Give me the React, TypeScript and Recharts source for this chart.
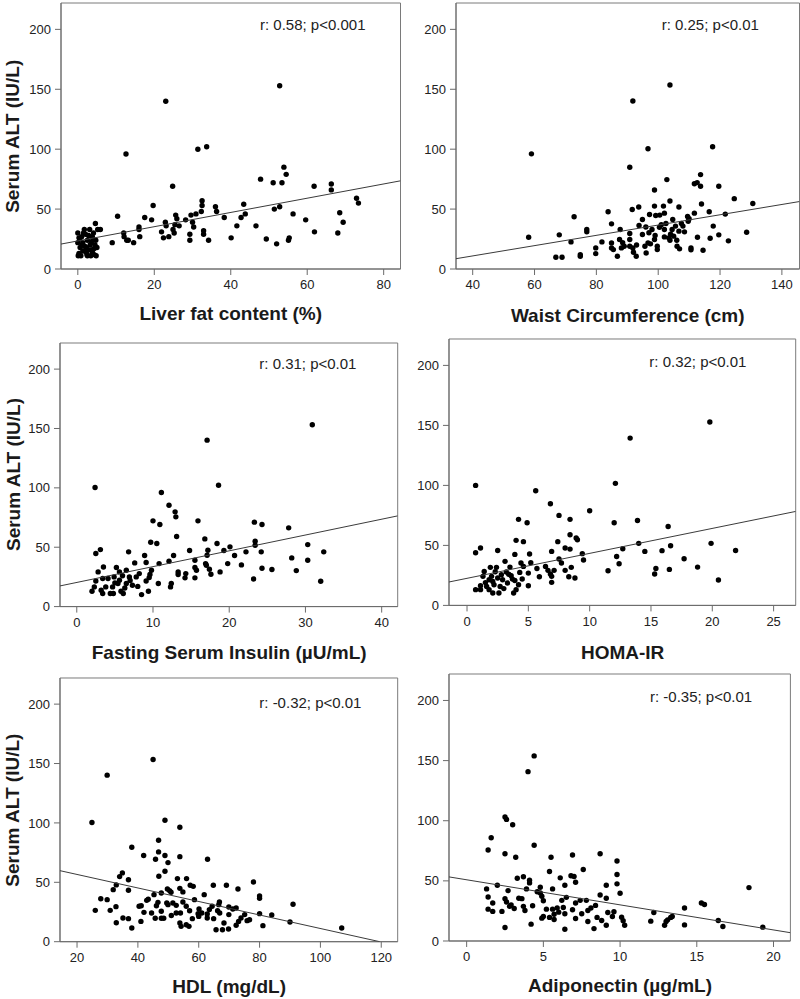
import React from "react";
import { ScatterChart, Scatter, XAxis, YAxis, ReferenceArea } from "recharts";

// ---------- data ----------
const altTicks = [0, 50, 100, 150, 200];

const liverFatTicks = [0, 20, 40, 60, 80];
const liverFatPoints: [number, number][] = [
  [52.8, 153], [23, 140], [12.6, 96], [31.4, 100], [33.7, 102],
  [47.8, 75], [51.1, 72], [53.4, 72], [53.9, 85], [54.5, 79], [24.8, 69], [61.8, 69], [66.3, 71], [66.3, 66],
  [19.7, 53], [32.5, 57], [32.5, 53], [32.3, 48], [36, 52], [36.3, 48], [43.4, 54], [10.4, 44], [17.5, 43],
  [19.3, 41], [21.9, 31], [25.6, 45], [25.9, 42], [25.4, 37], [22.9, 39], [23.1, 36], [22.4, 26], [23.8, 27],
  [25.2, 30], [26.5, 36], [29.6, 45], [30.9, 46], [28.2, 41], [30.3, 35], [29.3, 29], [29.3, 24], [32.9, 32],
  [32.9, 29], [34.2, 24], [38.3, 43], [40.1, 26], [41.6, 36], [42.7, 43], [43.8, 46], [46.6, 36], [49.3, 25],
  [51.4, 50], [52.8, 52], [52, 21], [55.1, 24], [55.3, 26], [56.3, 46], [59.6, 41], [61.9, 31], [68, 30],
  [68.5, 47], [69.4, 39], [72.9, 59], [73.4, 55], [30, 39], [24.9, 33],
  [9, 22], [12, 30], [12.1, 27], [12.8, 24], [14.6, 22], [16, 35], [16, 33], [16.2, 27], [13.2, 24], [5.9, 33],
  [0, 30], [0.3, 26], [0, 22], [0.6, 18], [0.3, 13], [0.1, 11], [1, 27], [1.3, 22], [1.7, 33], [2, 29],
  [2.2, 18], [2.4, 12], [2.5, 24], [3.1, 33], [3.2, 20], [3.6, 16], [3.8, 27], [4.1, 30], [4.3, 12], [4.5, 20],
  [4.7, 24], [5, 18], [5.2, 33], [4.6, 38], [4.8, 11], [2.5, 11], [1.3, 15], [2.9, 16], [3.9, 24], [3.4, 11],
  [0.8, 11], [1.8, 19], [0.5, 25], [1.5, 30], [2.8, 28], [3.5, 22], [4.2, 17], [1.1, 20], [2.2, 14], [3.8, 14],
];
const liverFatFit: [number, number][] = [[-4.4, 20.8], [84.4, 73.6]];

const waistTicks = [40, 60, 80, 100, 120, 140];
const waistPoints: [number, number][] = [
  [103.8, 153.6], [91.8, 140.2], [59, 96.1], [96.7, 100.3], [117.6, 102], [90.8, 84.9], [102.8, 74.6],
  [98.8, 65.9], [113.7, 78.8], [111.7, 71.2], [112.6, 72.1], [113.7, 69], [119.6, 69], [124.6, 58.7],
  [130.6, 54.7], [103.8, 56.7], [106.7, 51.7], [98.8, 52.5], [101.7, 52.5], [93.7, 51.7], [91.6, 49.7],
  [83.8, 47.8], [97.2, 45.5], [99.2, 44.7], [102, 46.6], [114, 54.2], [116.5, 47.8], [111.7, 46.6],
  [109.5, 43.9], [121.7, 45.8], [72.8, 43.6], [84.9, 37.7], [76.9, 33], [76.9, 31], [68, 28.5], [58.1, 26.5],
  [71.8, 22.6], [117.8, 35.8], [119.6, 28.5], [128.6, 30.7], [112.7, 26.5], [116.8, 25.7], [122.7, 23.5],
  [114.5, 15.6], [66.9, 9.8], [68.9, 9.8], [74.8, 12], [74.8, 10.6], [79.8, 17.6], [79.8, 12.8], [81.8, 22.6],
  [84.9, 21.8], [84.9, 17.6], [85.5, 16.2], [86.8, 10.6], [87.5, 24.6], [88.1, 17.6], [87.7, 33], [90.8, 29.6],
  [90.8, 24.6], [90.8, 19], [91.8, 17.6], [92, 14], [92.9, 10.6], [93.8, 36.3], [94.9, 41.3], [94.9, 28.8],
  [95.7, 19], [96.1, 13.4], [96.7, 21.8], [97, 30.2], [98, 33], [98.8, 24.6], [99.7, 19], [99.7, 16.2],
  [100.4, 34.9], [101, 36.9], [102, 33], [102, 26.8], [103.4, 26], [103.8, 24], [104.5, 33], [105, 27.4],
  [105.6, 35.8], [106.1, 19], [106.7, 31.6], [106.9, 16.8], [107.5, 38], [108, 35.8], [109.7, 39.9],
  [110.6, 17.6], [110.6, 16], [104.7, 41.3], [100.5, 45], [97.5, 21], [88.5, 22], [93, 20], [104, 29],
  [106, 24], [108.5, 31], [99, 28], [96, 35], [89, 19], [102.5, 38], [110, 42],
];
const waistFit: [number, number][] = [[34.6, 8.6], [145.7, 56.3]];

const insulinTicks = [0, 10, 20, 30, 40];
const insulinPoints: [number, number][] = [
  [30.9, 153.1], [17.1, 140.2], [2.4, 100.3], [11.1, 96.1], [18.6, 102.2], [12.1, 85.4], [12.9, 79.8],
  [13, 75.6], [10, 72.2], [10.9, 69.1], [15.9, 72.2], [23.3, 71.1], [24.3, 69.1], [27.8, 66.3], [16.8, 57],
  [13.1, 59], [9.7, 54.2], [10.5, 53.1], [18.4, 53.1], [23.4, 55.1], [23.4, 51.7], [30.3, 52.2], [17.2, 47.5],
  [14.8, 47.2], [19.3, 47.2], [20.1, 50.3], [24.2, 46.1], [22.2, 46.1], [32.4, 46.1], [28.2, 41], [20.7, 43],
  [30.3, 39], [17.1, 43.3], [2.5, 44.7], [3.1, 48], [6.8, 46.1], [8.9, 43], [7.6, 36.8], [9.1, 37.1],
  [12.7, 43], [10.8, 36.2], [12.1, 38.2], [15.5, 39], [15.5, 32.9], [15.7, 30.6], [17, 34.8], [17.4, 31.5],
  [17.6, 27.2], [18.8, 29.2], [21.6, 35.1], [19.8, 36.2], [25.6, 31.2], [24.3, 32.3], [28.8, 30.3],
  [23.2, 23.3], [32, 21.3], [15.5, 24.2], [14.2, 24.2], [13.3, 29.2], [13.3, 27], [12.4, 19.4], [12.3, 16.6],
  [10.7, 19.4], [9.4, 12.9], [8.5, 10.1], [9.8, 30.6], [9.6, 27], [9.5, 24.4], [9.1, 21.6], [7.8, 25],
  [7.3, 18], [6.9, 25], [6.5, 19.4], [6.3, 15.7], [6.1, 11], [5.8, 12.9], [5.6, 22.2], [5.4, 19.4],
  [5.2, 32.9], [4.9, 25], [4.7, 16.6], [4.4, 11], [4.1, 23.6], [3.8, 16.6], [3.5, 33.4], [3.4, 23.6],
  [3.2, 13.8], [2.8, 29.2], [2.5, 21.6], [2.3, 16.6], [2, 12.9], [3.4, 11], [6.5, 30.6], [8.2, 27.8],
  [14.3, 27.8], [16.9, 36.2], [5.6, 29.2], [4.8, 11], [5.0, 20], [6.0, 26], [7.0, 22], [8.0, 17],
];
const insulinFit: [number, number][] = [[-2.2, 17.4], [42.1, 76.4]];

const homaTicks = [0, 5, 10, 15, 20, 25];
const homaPoints: [number, number][] = [
  [19.8, 152.8], [13.3, 139.4], [0.7, 100], [12.1, 101.7], [5.6, 95.6], [6.8, 84.7], [10, 78.9], [7.5, 75],
  [4.2, 71.7], [4.9, 68.9], [8.4, 71.7], [12, 68.9], [13.9, 70.8], [16.4, 65.8], [8.4, 58.9], [8.9, 56.1],
  [9, 54.7], [4, 54.2], [4.6, 53.1], [7.4, 53.1], [14, 51.7], [19.9, 51.7], [0.7, 43.9], [1.1, 47.8],
  [2.5, 45.8], [3.9, 42.5], [5.1, 42.8], [6.9, 45], [8, 47.8], [8.4, 46.9], [9.4, 43.1], [9.5, 37.8],
  [12.7, 47.2], [12.2, 40.8], [12.4, 34.7], [14.5, 45], [15.9, 45.6], [16.6, 49.7], [17.7, 38.9], [21.9, 45.8],
  [18.8, 31.9], [15.4, 30.8], [16.5, 30], [15.3, 26.1], [20.5, 21.1], [11.5, 28.9], [7.5, 38.6], [7.7, 35.3],
  [8, 29.2], [8.5, 31.7], [8.3, 23.9], [8.8, 22.8], [7.1, 29.2], [6.4, 32.5], [6.6, 29.2], [6.8, 26.1],
  [6.9, 19.2], [6.9, 24.2], [5.9, 23.9], [5.7, 30.8], [5.2, 35.6], [5, 26.9], [5, 16.4], [4.6, 32.5],
  [4.4, 35.3], [4.3, 27.5], [4.2, 17.2], [4, 13.1], [3.8, 10.3], [3.7, 21.9], [3.6, 24.7], [3.3, 18.6],
  [3.2, 27.8], [3.1, 36.7], [2.9, 21.4], [2.7, 15.8], [2.6, 10.3], [2.5, 22.8], [2.4, 31.7], [2.2, 17.2],
  [2.1, 10.3], [2.1, 20], [2, 24.2], [1.9, 31.7], [1.8, 13.1], [1.6, 15.8], [1.4, 28.3], [1.3, 24.2],
  [1.1, 16.4], [1.1, 13.1], [0.7, 13.1], [1.8, 21.4], [2.8, 25.6], [3.5, 31.9], [3.9, 20.8], [2.3, 28],
  [3.0, 14], [4.5, 22], [1.5, 19], [3.4, 26],
];
const homaFit: [number, number][] = [[-1.47, 19.5], [26.8, 78.3]];

const hdlTicks = [20, 40, 60, 80, 100, 120];
const hdlPoints: [number, number][] = [
  [45, 153.4], [29.9, 140.2], [24.9, 100.3], [48.9, 102.2], [53.8, 96.3], [46.8, 85.4], [38, 79.5],
  [46.8, 75.6], [41.9, 72.5], [48.9, 72.5], [53.8, 71.6], [62.9, 69.4], [45.8, 69.4], [49.9, 66.6],
  [48.9, 59.3], [34.9, 57.9], [34, 54.8], [46.9, 55.1], [36.9, 52.2], [53, 53.1], [56, 53.1], [78, 50.3],
  [32.9, 47.8], [57.2, 47.5], [58.2, 46.6], [64.8, 47.5], [69.1, 47.5], [31.9, 43.8], [36.9, 43.3],
  [49.7, 44.4], [50.4, 43], [53.8, 44.9], [72.9, 44.4], [45.3, 39.6], [47.7, 41], [50.9, 41.6], [54.8, 41.9],
  [61.8, 39.6], [27.8, 36.2], [29.9, 35.4], [43.4, 35.7], [42.9, 34.8], [46.6, 33.1], [49.5, 32.6],
  [51.5, 32.6], [58.6, 35.4], [54.8, 33.4], [60.1, 27.5], [62.8, 23.3], [64.4, 29.8], [66.8, 33.4],
  [66.2, 26.1], [80, 38.5], [80, 36.5], [91, 31.5], [41.1, 30.3], [42, 24.7], [40.4, 29.8], [32.8, 29.5],
  [30.9, 26.4], [26, 26.4], [36.9, 19.4], [32.9, 16], [38, 11.5], [41, 17.1], [45.7, 19.7], [47.7, 19.7],
  [52.6, 30.6], [52.6, 24.2], [54, 24.2], [53.8, 15.7], [54.2, 12.9], [55.9, 14.3], [56.8, 12.9],
  [57.9, 19.4], [60, 21.3], [61, 24.2], [62.8, 19.9], [64.9, 19.4], [65.7, 10.1], [67.8, 10.1], [68.3, 15.7],
  [69.8, 10.7], [69.9, 22.8], [69.9, 29.2], [71.2, 27.5], [72.3, 13.8], [73.1, 17.1], [73.9, 19.9],
  [75.1, 22.8], [75.9, 17.7], [76.7, 18.5], [80, 23.6], [81.1, 13.5], [84, 22.5], [90, 16.6], [107, 11.5],
  [35.1, 19.9], [44.5, 24.2], [46.1, 30.3], [55.9, 29.8], [59.8, 23.6], [66.9, 24.2], [47.7, 25.6],
  [49.9, 31.2], [72.3, 28.4], [66.6, 31.2], [48.5, 19.7], [57, 26], [63.5, 27], [51, 22],
];
const hdlFit: [number, number][] = [[14.4, 59.8], [119.5, 0]];

const adipoTicks = [0, 5, 10, 15, 20];
const adipoPoints: [number, number][] = [
  [4.4, 153.9], [4, 140.8], [2.5, 103.1], [2.6, 101.1], [3, 96.6], [1.6, 85.8], [1.4, 75.7], [4.4, 79.6],
  [2.5, 72.6], [3.2, 69.6], [5.5, 69.6], [6.9, 71.5], [8.7, 72.6], [9.8, 66.5], [7.6, 59.5], [5.4, 57.8],
  [6.1, 52.5], [6.8, 54.2], [7, 53.6], [3.3, 52.2], [3.7, 53.4], [4.1, 50.6], [4.1, 48.3], [9.8, 55.3],
  [9.8, 47.5], [7.1, 48.9], [4.8, 44.7], [2, 46.4], [1.3, 43.3], [5.6, 43.3], [6.4, 46.4], [9.1, 46.4],
  [18.4, 44.4], [2.7, 41.9], [3.9, 43.3], [4.8, 39.9], [4.9, 37.2], [10, 39.7], [8.7, 38.3], [9.1, 35.5],
  [1.4, 36.6], [1.7, 31.6], [1.4, 26.5], [1.7, 24.6], [2.3, 24.6], [2.6, 32.4], [2.5, 35.2], [2.8, 28.8],
  [3.4, 35.5], [3.6, 35.2], [3.7, 28.8], [3.8, 25.4], [4.3, 29.3], [5, 33.5], [5.2, 26.5], [5, 20.4],
  [5.4, 19.6], [5.6, 26.5], [5.7, 22.3], [5.7, 17.9], [5.9, 27.4], [6.3, 27.9], [6.2, 33.8], [6.5, 36.3],
  [6.4, 22.6], [6.9, 26], [7.1, 31.6], [7.1, 18.7], [7.4, 33.8], [7.5, 22.6], [7.8, 33.8], [7.9, 25.4],
  [7.9, 16.2], [8.1, 27.4], [8.3, 10.3], [8.4, 29.6], [8.5, 19.6], [8.8, 17], [9.1, 13.1], [9.2, 23.7],
  [9.5, 20.4], [9.6, 24.3], [10.1, 19.8], [10.2, 16.8], [10.3, 13.1], [12, 16.5], [12.2, 23.7], [12.9, 13.1],
  [13, 16.2], [13.1, 17.6], [13.3, 19.6], [13.4, 20.4], [14.2, 27.4], [14.2, 13.4], [15.3, 31.6],
  [15.5, 30.4], [16.4, 17], [16.7, 12], [19.3, 11.5], [2.5, 11.2], [4.2, 14], [6.4, 9.8], [2.9, 30],
  [3.1, 27], [4.6, 41], [6.0, 24], [4.9, 19],
];
const adipoFit: [number, number][] = [[-1.15, 53.3], [21.1, 6.9]];

// ---------- panel layout ----------
type Rect = { L: number; T: number; R: number; B: number };

const Y_MAX = 222;
const FONT = "'Liberation Sans', Arial, sans-serif";

const dot = (p: any) => <circle cx={p.cx} cy={p.cy} r={2.7} fill="#000" />;
const noDot = () => <g />;

function Panel(props: {
  rect: Rect;
  xDomain: [number, number];
  xTicks: number[];
  points: [number, number][];
  fit: [number, number][];
}) {
  const { rect, xDomain, xTicks, points, fit } = props;
  const yW = 60;
  const mt = 5;
  const mr = 5;
  const xH = 34;
  const left = rect.L - yW;
  const top = rect.T - mt;
  const width = rect.R - rect.L + yW + mr;
  const height = rect.B - rect.T + mt + xH;
  const pts = points.map(([x, y]) => ({ x, y }));
  const fitPts = fit.map(([x, y]) => ({ x, y }));
  return (
    <div style={{ position: "absolute", left, top }}>
      <ScatterChart width={width} height={height} margin={{ top: mt, right: mr, bottom: 0, left: 0 }}>
        <XAxis
          type="number"
          dataKey="x"
          domain={xDomain}
          ticks={xTicks}
          allowDataOverflow
          height={xH}
          tickSize={6}
          tickMargin={5}
          stroke="#6a6a6a"
          tick={{ fill: "#222", fontSize: 13, fontFamily: FONT }}
        />
        <YAxis
          type="number"
          dataKey="y"
          domain={[0, Y_MAX]}
          ticks={altTicks}
          allowDataOverflow
          width={yW}
          tickSize={6}
          tickMargin={4}
          stroke="#6a6a6a"
          tick={{ fill: "#222", fontSize: 13, fontFamily: FONT }}
        />
        <ReferenceArea
          x1={xDomain[0]}
          x2={xDomain[1]}
          y1={0}
          y2={Y_MAX}
          fill="none"
          fillOpacity={0}
          stroke="#7a7a7a"
          strokeWidth={1}
        />
        <Scatter data={pts} shape={dot} isAnimationActive={false} />
        <Scatter
          data={fitPts}
          shape={noDot}
          line={{ stroke: "#3a3a3a", strokeWidth: 1 }}
          isAnimationActive={false}
        />
      </ScatterChart>
    </div>
  );
}

const r1: Rect = { L: 61, T: 3.3, R: 400.5, B: 269.3 };
const r2: Rect = { L: 456, T: 3.3, R: 799.5, B: 269.3 };
const r3: Rect = { L: 60.3, T: 342.7, R: 398, B: 606.3 };
const r4: Rect = { L: 449.3, T: 339.3, R: 796, B: 605.7 };
const r5: Rect = { L: 60.3, T: 678.3, R: 398, B: 942 };
const r6: Rect = { L: 449.3, T: 674, R: 790.7, B: 941 };

const cx = (r: Rect) => (r.L + r.R) / 2;
const cy = (r: Rect) => (r.T + r.B) / 2;

export default function App() {
  const titleStyle = { fontFamily: FONT, fontSize: 19, fontWeight: 700, fill: "#1a1a1a" } as const;
  const noteStyle = { fontFamily: FONT, fontSize: 15, fill: "#222" } as const;
  return (
    <div style={{ position: "absolute", left: 0, top: 0, width: 800, height: 999, background: "#fff" }}>
      <Panel rect={r1} xDomain={[-4.4, 84.4]} xTicks={liverFatTicks} points={liverFatPoints} fit={liverFatFit} />
      <Panel rect={r2} xDomain={[34.6, 145.7]} xTicks={waistTicks} points={waistPoints} fit={waistFit} />
      <Panel rect={r3} xDomain={[-2.2, 42.1]} xTicks={insulinTicks} points={insulinPoints} fit={insulinFit} />
      <Panel rect={r4} xDomain={[-1.47, 26.8]} xTicks={homaTicks} points={homaPoints} fit={homaFit} />
      <Panel rect={r5} xDomain={[14.4, 125.4]} xTicks={hdlTicks} points={hdlPoints} fit={hdlFit} />
      <Panel rect={r6} xDomain={[-1.15, 21.1]} xTicks={adipoTicks} points={adipoPoints} fit={adipoFit} />
      <svg width={800} height={999} style={{ position: "absolute", left: 0, top: 0, pointerEvents: "none" }}>
        {[r1, r3, r5].map((r, i) => (
          <text
            key={i}
            x={13}
            y={cy(r)}
            transform={`rotate(-90, 13, ${cy(r)})`}
            textAnchor="middle"
            dominantBaseline="central"
            style={titleStyle}
          >
            Serum ALT (IU/L)
          </text>
        ))}
        <text x={cx(r1)} y={320} textAnchor="middle" style={titleStyle}>Liver fat content (%)</text>
        <text x={cx(r2)} y={322} textAnchor="middle" style={titleStyle}>Waist Circumference (cm)</text>
        <text x={cx(r3)} y={659} textAnchor="middle" style={titleStyle}>Fasting Serum Insulin (µU/mL)</text>
        <text x={cx(r4)} y={659} textAnchor="middle" style={titleStyle}>HOMA-IR</text>
        <text x={cx(r5)} y={993} textAnchor="middle" style={titleStyle}>HDL (mg/dL)</text>
        <text x={cx(r6)} y={991.5} textAnchor="middle" style={titleStyle}>Adiponectin (µg/mL)</text>

        <text x={260} y={30} style={noteStyle}>r: 0.58; p&lt;0.001</text>
        <text x={661.7} y={30} style={noteStyle}>r: 0.25; p&lt;0.01</text>
        <text x={259.3} y={369.3} style={noteStyle}>r: 0.31; p&lt;0.01</text>
        <text x={649.3} y={366.7} style={noteStyle}>r: 0.32; p&lt;0.01</text>
        <text x={259.3} y={708.3} style={noteStyle}>r: -0.32; p&lt;0.01</text>
        <text x={650} y={701.7} style={noteStyle}>r: -0.35; p&lt;0.01</text>
      </svg>
    </div>
  );
}
